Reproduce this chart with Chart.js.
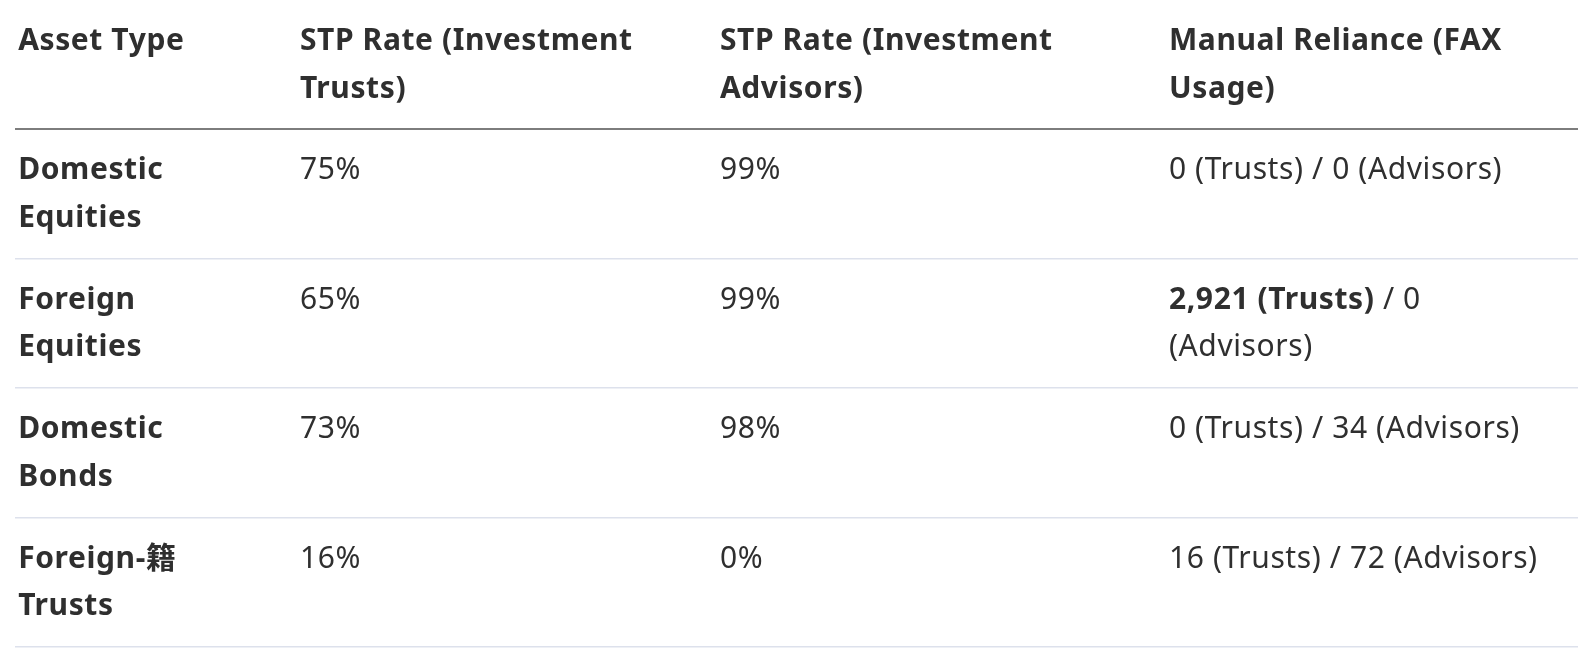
<!DOCTYPE html>
<html>
<head>
<meta charset="utf-8">
<script src="https://cdn.jsdelivr.net/npm/chart.js@4/dist/chart.umd.min.js"></script>
<style>
  html, body { margin: 0; padding: 0; background: #ffffff; }
  #tabella { display: block; }
</style>
</head>
<body>
<canvas id="tabella" width="1594" height="663"></canvas>
<script>
// dati della tabella
const headers = ['Asset Type', 'STP Rate (Investment Trusts)', 'STP Rate (Investment Advisors)', 'Manual Reliance (FAX Usage)'];
const assetTypes = ['Domestic Equities', 'Foreign Equities', 'Domestic Bonds', 'Foreign-籍 Trusts'];
const stpTrusts = [75, 65, 73, 16];
const stpAdvisors = [99, 99, 98, 0];
const faxTrusts = [0, 2921, 0, 16];
const faxAdvisors = [0, 0, 34, 72];

// layout (percentuali della larghezza della tabella)
const colStart = [0.2, 18.23, 45.1, 73.83, 100];
// larghezza massima del testo per colonna (px)
const colTextMax = [215, 390, 420, 385];
const FONT_FAMILY = '"Noto Sans", "Noto Sans CJK SC", sans-serif';
const FONT_SIZE = 30;
const LETTER_SPACING = '0.6px';
const LINE_GAP = 47.5;
const FIRST_LINE = 41.5;
const TEXT_COLOR = '#2f2f2f';

const maxFax = Math.max(...faxTrusts);
const fmt = v => v.toLocaleString('en-US');

// ogni cella = lista di "run" {t: testo, b: grassetto}
const rows = [headers.map(h => [{ t: h, b: true }])];
assetTypes.forEach((asset, i) => {
  rows.push([
    [{ t: asset, b: true }],
    [{ t: stpTrusts[i] + '%', b: false }],
    [{ t: stpAdvisors[i] + '%', b: false }],
    [
      { t: fmt(faxTrusts[i]) + ' (Trusts)', b: faxTrusts[i] === maxFax },
      { t: ' / ' + fmt(faxAdvisors[i]) + ' (Advisors)', b: false }
    ]
  ]);
});

function fontFor(bold) {
  return (bold ? '700 ' : '400 ') + FONT_SIZE + 'px ' + FONT_FAMILY;
}

// disegna una cella con a capo automatico
function drawCell(ctx, runs, x, y, maxW) {
  const words = [];
  runs.forEach(run => {
    run.t.split(' ').forEach(w => {
      if (w === '') return;
      words.push({ t: w, b: run.b });
    });
  });
  let cx = 0, line = 0;
  ctx.textBaseline = 'middle';
  ctx.textAlign = 'left';
  ctx.fillStyle = TEXT_COLOR;
  ctx.letterSpacing = LETTER_SPACING;
  words.forEach(w => {
    ctx.font = fontFor(w.b);
    const ww = ctx.measureText(w.t).width;
    const sp = ctx.measureText(' ').width;
    let start = cx === 0 ? 0 : cx + sp;
    if (cx > 0 && start + ww > maxW) {
      line++;
      start = 0;
    }
    ctx.fillText(w.t, x + start, y + line * LINE_GAP);
    cx = start + ww;
  });
}

const cellPlugin = {
  id: 'celle',
  afterDraw(chart) {
    const ctx = chart.ctx;
    const xs = chart.scales.x;
    const ys = chart.scales.y;
    ctx.save();
    rows.forEach((row, r) => {
      const top = ys.getPixelForValue(r);
      row.forEach((runs, c) => {
        const x0 = xs.getPixelForValue(colStart[c]);
        drawCell(ctx, runs, x0, top + FIRST_LINE, colTextMax[c]);
      });
    });
    ctx.restore();
  }
};

const ctx = document.getElementById('tabella').getContext('2d');
const tabella = new Chart(ctx, {
  type: 'scatter',
  data: { datasets: [{ data: [], pointRadius: 0 }] },
  options: {
    responsive: false,
    animation: false,
    devicePixelRatio: 1,
    layout: { padding: { left: 15, right: 16, top: 0, bottom: 16 } },
    plugins: { legend: { display: false }, tooltip: { enabled: false } },
    scales: {
      x: { type: 'linear', min: 0, max: 100, display: false },
      y: {
        type: 'linear',
        reverse: true,
        min: 0,
        max: rows.length,
        ticks: { display: false, stepSize: 1 },
        border: { display: false },
        grid: {
          drawTicks: false,
          color: function(c) {
            if (c.tick.value === 0) return 'rgba(0,0,0,0)';
            return c.tick.value === 1 ? '#7d7d7d' : '#dde1ec';
          },
          lineWidth: function(c) {
            return c.tick.value === 1 ? 2 : 1.5;
          }
        }
      }
    }
  },
  plugins: [cellPlugin]
});
</script>
</body>
</html>
